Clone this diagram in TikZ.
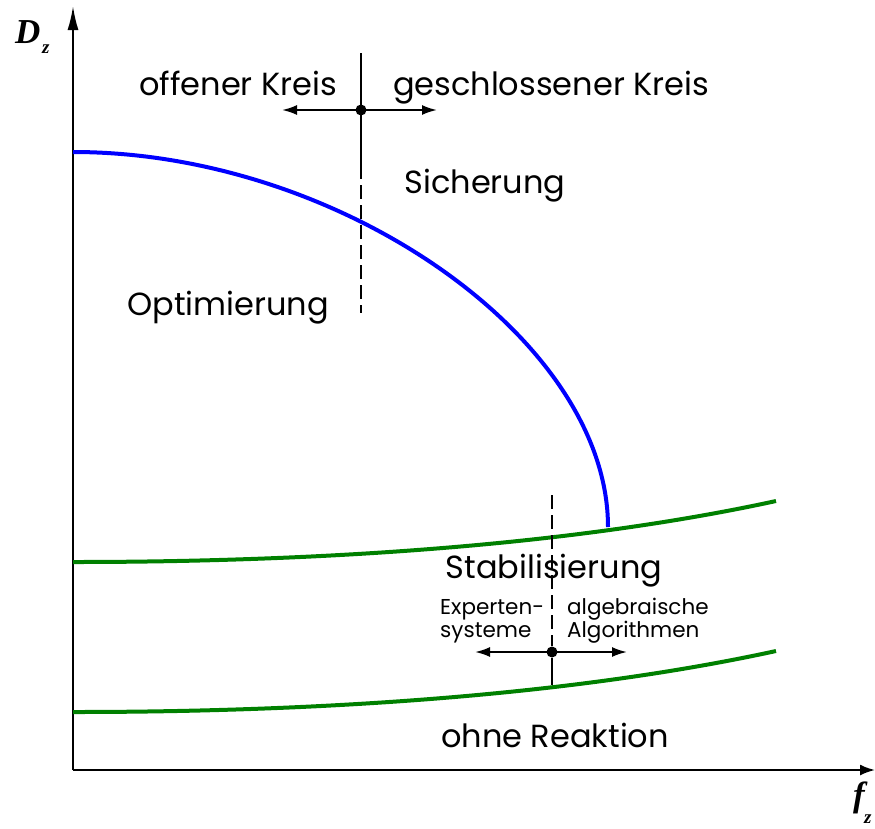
\documentclass[tikz,border=0pt]{standalone}
\usepackage{fontspec}
\setmainfont{Poppins}
\newfontfamily\axisfont{Liberation Serif}
\usetikzlibrary{arrows.meta}
\definecolor{curveblue}{RGB}{0,0,255}
\definecolor{curvegreen}{RGB}{0,128,0}
\tikzset{
  yaxisline/.style={line width=2pt,-{Latex[length=24pt,width=11pt]}},
  xaxisline/.style={line width=2pt,-{Latex[length=15pt,width=11pt]}},
  bigtxt/.style={font=\fontsize{32}{36}\selectfont, inner sep=0pt, anchor=base},
  smalltxt/.style={font=\fontsize{21.5}{23}\selectfont, inner sep=0pt, anchor=base west, text height=0.72em, text depth=0.05em},
  dir/.style={line width=2pt,{Latex[length=15pt,width=10pt]}-{Latex[length=15pt,width=10pt]}},
  divider/.style={line width=1.6pt},
  dividerdash/.style={line width=1.6pt, dash pattern=on 14pt off 6pt},
  junction/.style={circle, fill=black, inner sep=0pt, minimum size=11pt},
  curve/.style={line width=4pt},
  axisletter/.style={font=\axisfont\bfseries\itshape\fontsize{35}{38}\selectfont, inner sep=0pt},
  axissub/.style={font=\axisfont\bfseries\itshape\fontsize{19}{21}\selectfont, inner sep=0pt, anchor=base west}
}
\begin{document}
\begin{tikzpicture}[x=1pt,y=-1pt]
\useasboundingbox (0,0) rectangle (875,828);
% axes
\coordinate (O) at (73,770);
\coordinate (ytop) at (73,6);
\coordinate (xend) at (875,770);
\draw[yaxisline] (O) -- (ytop);
\draw[xaxisline] (O) -- (xend);
\node[axisletter, anchor=base west] (D) at (15,43) {D};
\node[axissub] (Dsub) at (42,53) {z};
\node[axisletter, anchor=base] (f) at (859,806) {f};
\node[axissub] (fsub) at (864,823) {z};
% green curves
\coordinate (g1a) at (73,562);
\coordinate (g1b) at (776,501);
\coordinate (g2a) at (73,712);
\coordinate (g2b) at (776,651);
\draw[curvegreen, curve] (g1a) .. controls (300,562) and (560,548) .. (g1b);
\draw[curvegreen, curve] (g2a) .. controls (300,712) and (560,698) .. (g2b);
% blue curve
\coordinate (bstart) at (73,152);
\coordinate (bend) at (608,527);
\draw[curveblue, curve] (bstart) .. controls (340.5,152) and (608,339.5) .. (bend);
% upper divider
\coordinate (d1top) at (361,53);
\coordinate (d1mid) at (361,165);
\coordinate (d1bot) at (361,313);
\node[junction] (j1) at (361,110) {};
\coordinate (a1l) at (282,110);
\coordinate (a1r) at (437,110);
\draw[divider] (d1top) -- (d1mid);
\draw[dividerdash] (d1mid) -- (d1bot);
\draw[dir] (a1l) -- (a1r);
% lower divider
\coordinate (d2top) at (552,495);
\coordinate (d2mid) at (552,646);
\coordinate (d2bot) at (552,685);
\node[junction] (j2) at (552,652) {};
\coordinate (a2l) at (475,652);
\coordinate (a2r) at (627,652);
\draw[dividerdash] (d2top) -- (d2mid);
\draw[divider] (j2) -- (d2bot);
\draw[dir] (a2l) -- (a2r);
% labels
\node[bigtxt] (ok) at (238,95) {offener Kreis};
\node[bigtxt] (gk) at (551,95) {geschlossener Kreis};
\node[bigtxt] (sich) at (485,193) {Sicherung};
\node[bigtxt] (opt) at (228,315) {Optimierung};
\node[bigtxt] (stab) at (554,578) {Stabilisierung};
\node[smalltxt] (exp1) at (440,614) {Experten-};
\node[smalltxt] (exp2) at (440,637) {systeme};
\node[smalltxt] (alg1) at (567,614) {algebraische};
\node[smalltxt] (alg2) at (567,637) {Algorithmen};
\node[bigtxt] (ohne) at (555,747) {ohne Reaktion};
\end{tikzpicture}
\end{document}
